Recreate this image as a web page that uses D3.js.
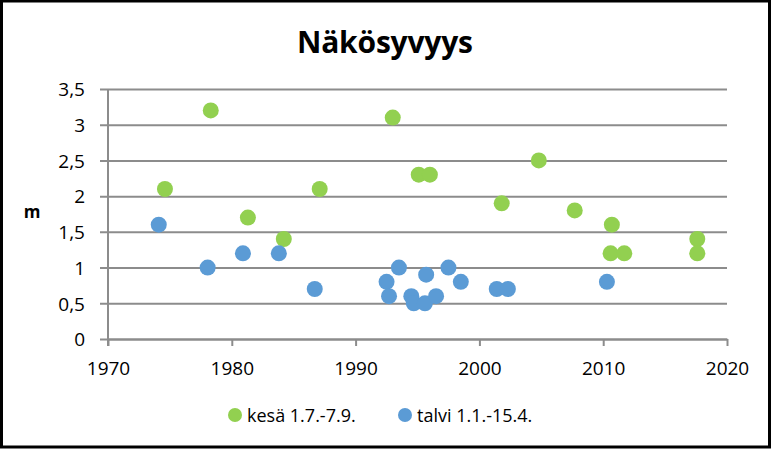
<!DOCTYPE html>
<html>
<head>
<meta charset="utf-8">
<script src="https://cdn.jsdelivr.net/npm/d3@7"></script>
<style>
body{margin:0;background:#fff;}
text{font-family:"Open Sans",sans-serif;}
</style>
</head>
<body>
<div id="chart"></div>
<script>
// Näkösyvyys scatter, kesä vs talvi
var summerYears=[1974.6,1978.3,1981.3,1984.2,1987.1,1993.0,1995.1,1996.0,2001.8,2004.8,2007.7,2010.7,2010.6,2011.7,2017.6,2017.6];
var summerValues=[2.1,3.2,1.7,1.4,2.1,3.1,2.3,2.3,1.9,2.5,1.8,1.6,1.2,1.2,1.4,1.2];
var winterYears=[1974.1,1978.05,1980.9,1983.8,1986.7,1992.5,1992.7,1993.5,1994.5,1994.7,1995.6,1995.7,1996.5,1997.5,1998.5,2001.4,2002.3,2010.3];
var winterValues=[1.6,1.0,1.2,1.2,0.7,0.8,0.6,1.0,0.6,0.5,0.5,0.9,0.6,1.0,0.8,0.7,0.7,0.8];
var xTicks=[1970,1980,1990,2000,2010,2020];
var yTicks=[0,0.5,1,1.5,2,2.5,3,3.5];
var seriesNames=["kesä 1.7.-7.9.","talvi 1.1.-15.4."];
var colors=["#92d050","#5b9bd5"];

var W=772,H=449;
var margin={top:89,right:45,bottom:110,left:108},
w=W-margin.left-margin.right,
h=H-margin.top-margin.bottom;

var svg=d3.select("#chart").append("svg")
.attr("width",W).attr("height",H);

svg.append("rect").attr("x",1.5).attr("y",1).attr("width",W-4).attr("height",H-3)
.attr("fill","#fff").attr("stroke","#000").attr("stroke-width",3);

var g=svg.append("g").attr("transform",`translate(${margin.left},${margin.top})`);

var x=d3.scaleLinear().domain([1970,2020]).range([0,w]);
var y=d3.scaleLinear().domain([0,3.5]).range([h,0]);
var fi=d3.formatLocale({decimal:",",thousands:" ",grouping:[3],currency:["","€"]});
var fmt=fi.format("");

// grid + y axis
var yAx=g.append("g").call(d3.axisLeft(y).tickValues(yTicks).tickSize(-w).tickFormat(fmt).tickPadding(23));
yAx.select(".domain").remove();
yAx.selectAll("line").attr("stroke","#8c8c8c").attr("stroke-width",2).attr("x1",-8);
yAx.selectAll("text").attr("font-size","19px").attr("fill","#000").attr("dy","0.36em");

var xAx=g.append("g").attr("transform",`translate(0,${h})`)
.call(d3.axisBottom(x).tickValues(xTicks).tickFormat(d3.format("d")).tickSize(7).tickSizeOuter(0).tickPadding(16));
xAx.select(".domain").attr("stroke","#8c8c8c").attr("stroke-width",2);
xAx.selectAll("line").attr("stroke","#8c8c8c").attr("stroke-width",2);
xAx.selectAll("text").attr("font-size","19px").attr("fill","#000");

g.append("line").attr("x1",0).attr("x2",0).attr("y1",0).attr("y2",h+7)
.attr("stroke","#8c8c8c").attr("stroke-width",2);

var summer=summerYears.map(function(d,i){return {x:d,y:summerValues[i]};});
var winter=winterYears.map(function(d,i){return {x:d,y:winterValues[i]};});

g.selectAll(".s").data(summer).enter().append("circle")
.attr("cx",function(d){return x(d.x);}).attr("cy",function(d){return y(d.y);})
.attr("r",8).attr("fill",colors[0]);
g.selectAll(".w").data(winter).enter().append("circle")
.attr("cx",function(d){return x(d.x);}).attr("cy",function(d){return y(d.y);})
.attr("r",8).attr("fill",colors[1]);

svg.append("text").attr("x",385).attr("y",53).attr("text-anchor","middle")
.attr("font-size","30px").attr("font-weight","bold").attr("textLength",176).text("Näkösyvyys");

svg.append("text").attr("x",32).attr("y",218).attr("text-anchor","middle")
.attr("font-size","17px").attr("font-weight","bold").text("m");

// legend
var legX=[235,405];
seriesNames.forEach(function(n,i){
  svg.append("circle").attr("cx",legX[i]).attr("cy",415).attr("r",7).attr("fill",colors[i]);
  svg.append("text").attr("x",legX[i]+12).attr("y",422).attr("font-size","18px").text(n);
});
</script>
</body>
</html>
